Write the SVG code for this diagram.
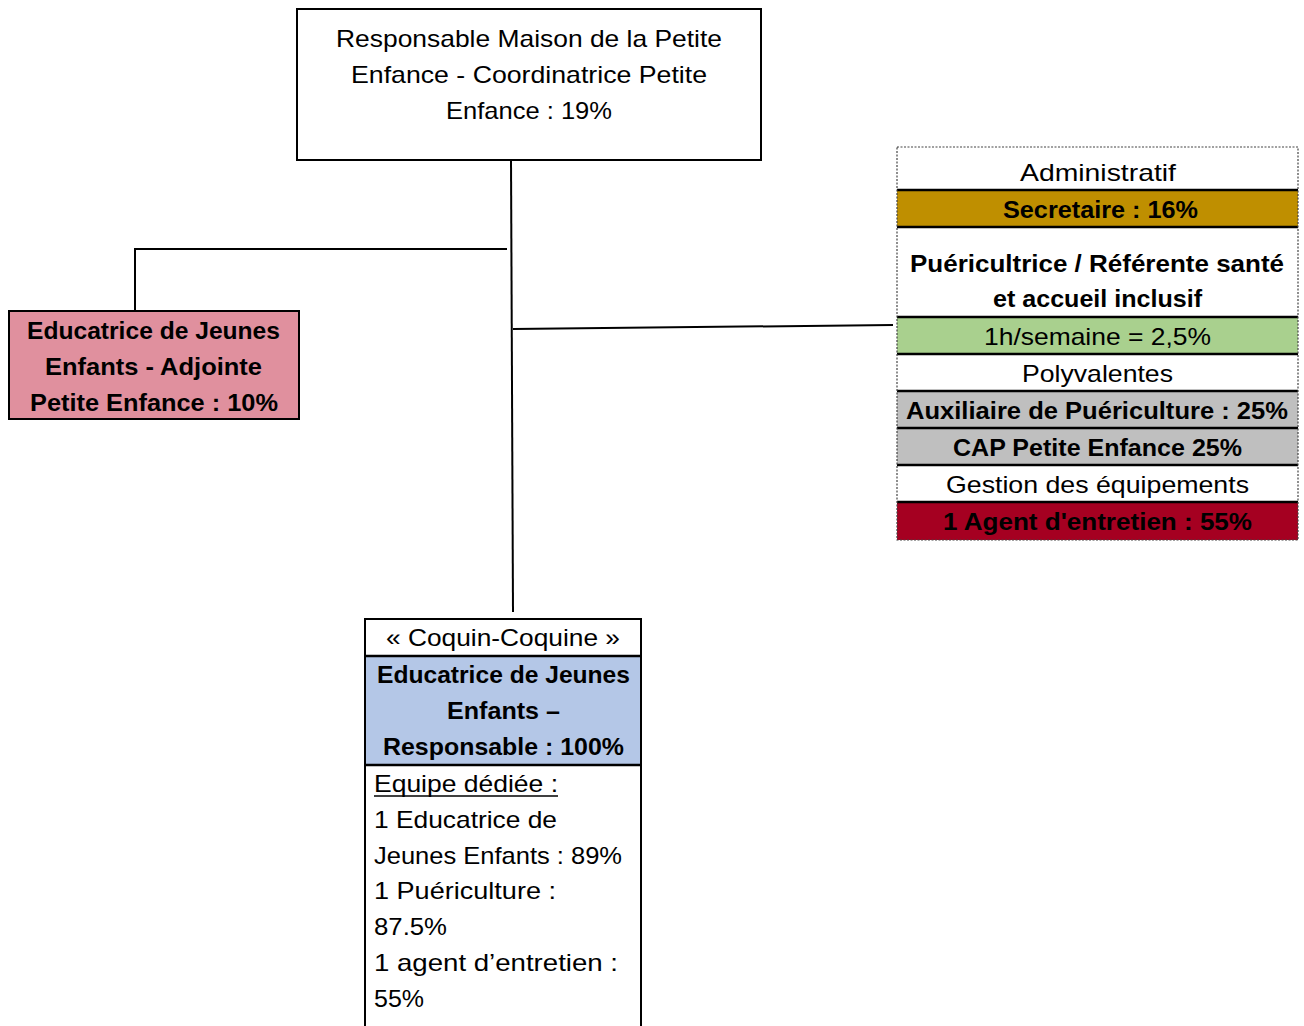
<svg xmlns="http://www.w3.org/2000/svg" width="1304" height="1026" viewBox="0 0 1304 1026">
<style>
text{font-family:"Liberation Sans",Arial,sans-serif;font-size:24px;fill:#000}
.b{font-weight:bold}
.c{text-anchor:middle}
.box{stroke:#000;stroke-width:2}
.sep{stroke:#000;stroke-width:2.5}
.conn{stroke:#000;stroke-width:2;fill:none}
</style>
<rect width="1304" height="1026" fill="#fff"/>
<g id="connectors">
<line class="conn" x1="511" y1="160" x2="513" y2="612"/>
<polyline class="conn" points="507,249 135,249 135,311"/>
<line class="conn" x1="513" y1="329" x2="893" y2="325"/>
</g>
<g id="top">
<rect class="box" x="297" y="9" width="464" height="151" fill="#fff"/>
<text x="336" y="47" textLength="386" lengthAdjust="spacingAndGlyphs">Responsable Maison de la Petite</text>
<text x="351" y="83" textLength="356" lengthAdjust="spacingAndGlyphs">Enfance - Coordinatrice Petite</text>
<text x="446" y="119" textLength="166" lengthAdjust="spacingAndGlyphs">Enfance : 19%</text>
</g>
<g id="adjointe">
<rect class="box" x="9" y="311" width="290" height="108" fill="#E0909E"/>
<text class="b" x="27" y="339" textLength="253" lengthAdjust="spacingAndGlyphs">Educatrice de Jeunes</text>
<text class="b" x="45" y="375" textLength="217" lengthAdjust="spacingAndGlyphs">Enfants - Adjointe</text>
<text class="b" x="30" y="411" textLength="248" lengthAdjust="spacingAndGlyphs">Petite Enfance : 10%</text>
</g>
<g id="services">
<rect x="897" y="147" width="401" height="393" fill="#fff"/>
<rect x="897" y="190" width="401" height="37" fill="#BF8F00"/>
<rect x="897" y="317" width="401" height="37" fill="#A9D08E"/>
<rect x="897" y="391" width="401" height="74" fill="#BFBFBF"/>
<rect x="897" y="502" width="401" height="38" fill="#A50021"/>
<g class="sep">
<line x1="897" y1="190" x2="1298" y2="190"/>
<line x1="897" y1="227" x2="1298" y2="227"/>
<line x1="897" y1="317" x2="1298" y2="317"/>
<line x1="897" y1="354" x2="1298" y2="354"/>
<line x1="897" y1="391" x2="1298" y2="391"/>
<line x1="897" y1="428" x2="1298" y2="428"/>
<line x1="897" y1="465" x2="1298" y2="465"/>
<line x1="897" y1="502" x2="1298" y2="502"/>
</g>
<rect x="897" y="147" width="401" height="393" fill="none" stroke="#444" stroke-width="1.2" stroke-dasharray="2,1.5"/>
<text x="1020" y="181" textLength="156" lengthAdjust="spacingAndGlyphs">Administratif</text>
<text class="b" x="1003" y="218" textLength="195" lengthAdjust="spacingAndGlyphs">Secretaire : 16%</text>
<text class="b" x="910" y="272" textLength="374" lengthAdjust="spacingAndGlyphs">Puéricultrice / Référente santé</text>
<text class="b" x="993" y="307" textLength="209" lengthAdjust="spacingAndGlyphs">et accueil inclusif</text>
<text x="984" y="345" textLength="227" lengthAdjust="spacingAndGlyphs">1h/semaine = 2,5%</text>
<text x="1022" y="382" textLength="151" lengthAdjust="spacingAndGlyphs">Polyvalentes</text>
<text class="b" x="906" y="419" textLength="382" lengthAdjust="spacingAndGlyphs">Auxiliaire de Puériculture : 25%</text>
<text class="b" x="953" y="456" textLength="289" lengthAdjust="spacingAndGlyphs">CAP Petite Enfance 25%</text>
<text x="946" y="493" textLength="303" lengthAdjust="spacingAndGlyphs">Gestion des équipements</text>
<text class="b" x="943" y="530" textLength="309" lengthAdjust="spacingAndGlyphs">1 Agent d'entretien : 55%</text>
</g>
<g id="coquin">
<rect x="365" y="656" width="276" height="109" fill="#B4C7E7"/>
<rect class="box" x="365" y="619" width="276" height="420" fill="none"/>
<line class="sep" x1="365" y1="656" x2="641" y2="656"/>
<line class="sep" x1="365" y1="765" x2="641" y2="765"/>
<text x="386" y="646" textLength="234" lengthAdjust="spacingAndGlyphs">« Coquin-Coquine »</text>
<text class="b" x="377" y="683" textLength="253" lengthAdjust="spacingAndGlyphs">Educatrice de Jeunes</text>
<text class="b" x="447" y="719" textLength="113" lengthAdjust="spacingAndGlyphs">Enfants –</text>
<text class="b" x="383" y="755" textLength="241" lengthAdjust="spacingAndGlyphs">Responsable : 100%</text>
<text x="374" y="792" textLength="184" lengthAdjust="spacingAndGlyphs">Equipe dédiée :</text>
<line x1="374" y1="796" x2="558" y2="796" stroke="#000" stroke-width="1.5"/>
<text x="374" y="828" textLength="183" lengthAdjust="spacingAndGlyphs">1 Educatrice de</text>
<text x="374" y="864" textLength="248" lengthAdjust="spacingAndGlyphs">Jeunes Enfants : 89%</text>
<text x="374" y="899" textLength="182" lengthAdjust="spacingAndGlyphs">1 Puériculture :</text>
<text x="374" y="935" textLength="73" lengthAdjust="spacingAndGlyphs">87.5%</text>
<text x="374" y="971" textLength="244" lengthAdjust="spacingAndGlyphs">1 agent d’entretien :</text>
<text x="374" y="1007" textLength="50" lengthAdjust="spacingAndGlyphs">55%</text>
</g>
</svg>
